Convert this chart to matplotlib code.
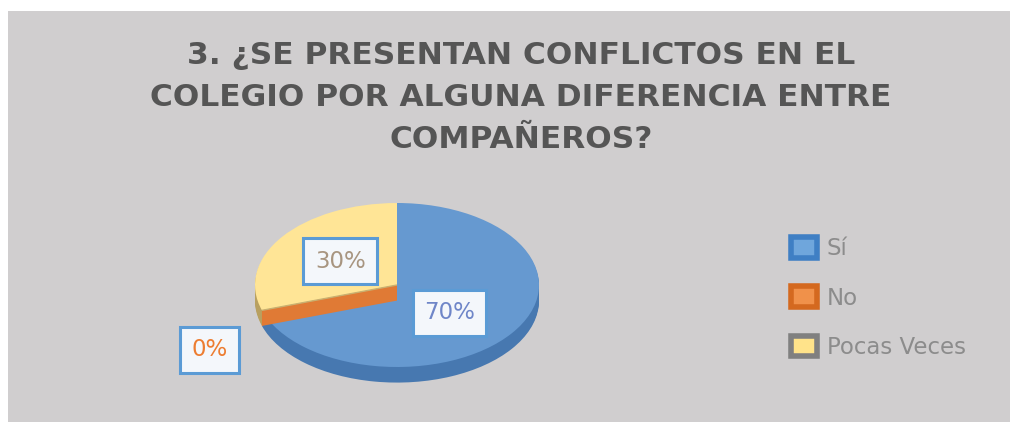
import numpy as np
import matplotlib
matplotlib.use("Agg")
import matplotlib.pyplot as plt
from matplotlib.patches import Rectangle, Patch, Polygon

title_lines = ["3. ¿SE PRESENTAN CONFLICTOS EN EL",
               "COLEGIO POR ALGUNA DIFERENCIA ENTRE",
               "COMPAÑEROS?"]
categories = ["Sí", "No", "Pocas Veces"]
values = [70, 0, 30]

top_colors = ["#6699d0", "#e07a35", "#ffe596"]
side_colors = ["#4778b0", "#b85f25", "#b8a060"]
key_edge = ["#3f7fc4", "#d4691f", "#808080"]
key_face = ["#6fa6dc", "#f0914a", "#ffe38a"]
label_text = ["#6f86c8", "#ed7d31", "#a89580"]
label_pos = [(0.37, -0.34), (-1.32, -0.79), (-0.40, 0.29)]

W, H = 1010, 422
fig = plt.figure(figsize=(W / 100, H / 100), dpi=100)
fig.patch.set_facecolor("white")
fig.patches.append(Rectangle((8 / W, 0), 1 - 8 / W, (H - 11) / H,
                             transform=fig.transFigure, facecolor="#d0cecf",
                             edgecolor="none", zorder=-5))

for line, yb in zip(title_lines, [64, 106, 148]):
    fig.text(521 / W, (H - yb) / H, line, ha="center", va="baseline",
             fontsize=22.5, fontweight="bold", color="#555555")

# pie axes: x unit = 142 px, y unit = 82 px, centre at (397, 285)
cx, cy, a, b = 397, 285, 142, 82
ax = fig.add_axes([(cx - 1.25 * a) / W, (H - cy - 1.25 * b) / H,
                   2.5 * a / W, 2.5 * b / H])
ax.set_facecolor("none")

depth = 0.19
n = 12
for k in range(n, 0, -1):
    ax.pie(values, colors=side_colors, startangle=90, counterclock=False,
           center=(0, -depth * k / n), radius=1.0,
           wedgeprops=dict(linewidth=0))
wedges, _ = ax.pie(values, colors=top_colors, startangle=90, counterclock=False,
                   center=(0, 0), radius=1.0,
                   wedgeprops=dict(linewidth=0))

# cut face of the zero slice
theta = np.deg2rad(90 - 360 * (values[0] / sum(values)))
px, py = np.cos(theta), np.sin(theta)
ax.add_patch(Polygon([(0, 0), (px, py), (px, py - depth), (0, -depth)],
                     closed=True, facecolor=top_colors[1], edgecolor="none",
                     zorder=5))
ax.add_patch(Polygon([(0, 0), (px, py), (px, py)], closed=False, fill=False,
                     edgecolor="#c9b070", linewidth=1, zorder=6))

ax.set_aspect("auto")
ax.set_xlim(-1.25, 1.25)
ax.set_ylim(-1.25, 1.25)
ax.axis("off")

for v, (lx, ly), tc in zip(values, label_pos, label_text):
    ax.text(lx, ly, f"{v}%", ha="center", va="center", fontsize=16.5,
            color=tc, zorder=10,
            bbox=dict(boxstyle="square,pad=0.5", facecolor="#f4f7fb",
                      edgecolor="#5b9bd5", linewidth=2.2))

handles = [Patch(facecolor=f, edgecolor=e, linewidth=4)
           for f, e in zip(key_face, key_edge)]
fig.legend(handles, categories, loc="upper left",
           bbox_to_anchor=(791 / W, (H - 237) / H), frameon=False,
           fontsize=16.5, labelcolor="#8c8c8c", handlelength=1.15,
           handleheight=1.0, handletextpad=0.4, labelspacing=1.15,
           borderpad=0, borderaxespad=0)

fig.savefig("out.png", dpi=100, facecolor=fig.get_facecolor())
